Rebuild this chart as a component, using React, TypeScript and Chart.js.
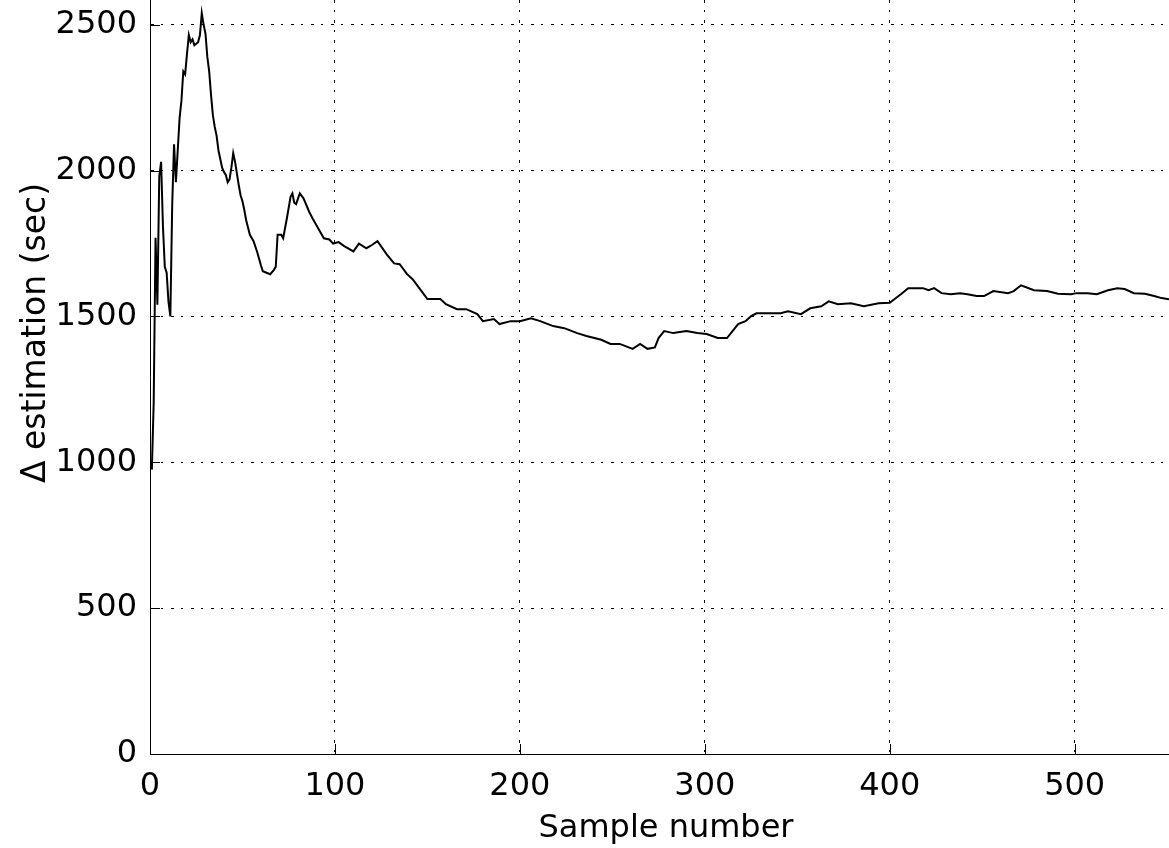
import React, { useEffect, useRef } from "react";
import { Chart, registerables } from "chart.js";

Chart.register(...registerables);

const sampleNumbers = [
  1, 2, 3, 4, 5, 6, 7, 8, 9, 10, 11, 12, 13, 14, 15, 16, 17, 18, 19, 20,
  21, 22, 23, 24, 25, 26, 27, 28, 29, 30, 31, 32, 33, 34, 35, 36, 37, 38, 39, 40,
  41, 42, 43, 44, 45, 46, 47, 48, 49, 50, 51, 52, 53, 54, 56, 58, 60, 61, 63, 65,
  67, 68, 69, 71, 72, 74, 76, 77, 78, 79, 81, 83, 86, 88, 91, 94, 97, 99, 102, 105,
  110, 113, 117, 120, 123, 128, 132, 135, 139, 142, 146, 150, 157, 160, 166, 171, 177, 180, 186, 189,
  195, 200, 206, 211, 218, 224, 231, 236, 244, 249, 254, 261, 265, 269, 273, 275, 278, 283, 290, 296,
  301, 307, 312, 315, 318, 322, 325, 328, 334, 341, 345, 352, 357, 363, 367, 372, 379, 386, 394, 400,
  406, 410, 418, 421, 424, 428, 433, 438, 442, 447, 451, 456, 464, 467, 471, 478, 485, 491, 498, 501,
  507, 512, 518, 523, 527, 532, 538, 543, 547, 551,
];

const deltaEstimates = [
  975, 1205, 1770, 1540, 1980, 2030, 1810, 1670, 1650, 1550, 1500, 1880, 2090, 1960, 2070, 2180, 2240, 2340, 2330, 2400,
  2465, 2440, 2450, 2430, 2435, 2440, 2465, 2540, 2500, 2470, 2390, 2340, 2260, 2190, 2150, 2120, 2070, 2040, 2010, 1995,
  1985, 1960, 1970, 2010, 2060, 2030, 1990, 1950, 1915, 1895, 1865, 1830, 1805, 1780, 1758, 1720, 1675, 1655, 1650, 1645,
  1660, 1670, 1780, 1780, 1768, 1836, 1910, 1922, 1890, 1885, 1922, 1905, 1860, 1835, 1802, 1768, 1764, 1750, 1755, 1741,
  1723, 1750, 1734, 1745, 1758, 1713, 1682, 1679, 1645, 1628, 1594, 1560, 1560, 1542, 1525, 1525, 1508, 1484, 1491, 1474,
  1484, 1484, 1494, 1484, 1467, 1460, 1443, 1433, 1420, 1406, 1406, 1389, 1406, 1389, 1394, 1426, 1450, 1443, 1450, 1443,
  1440, 1426, 1426, 1450, 1474, 1484, 1501, 1511, 1511, 1511, 1518, 1508, 1528, 1535, 1552, 1542, 1545, 1535, 1545, 1547,
  1576, 1597, 1597, 1590, 1597, 1580, 1576, 1580, 1576, 1570, 1570, 1587, 1580, 1587, 1607, 1590, 1587, 1578, 1576, 1580,
  1580, 1576, 1590, 1597, 1594, 1580, 1578, 1570, 1563, 1559,
];

const xTickValues = [0, 100, 200, 300, 400, 500];
const yTickValues = [0, 500, 1000, 1500, 2000, 2500];
const xTitle = "Sample number";
const yTitle = "Δ estimation (sec)";

const FONT = "'DejaVu Sans', 'Liberation Sans', sans-serif";

export default function App() {
  const ref = useRef<HTMLCanvasElement>(null);

  useEffect(() => {
    document.body.style.margin = "0";
    const canvas = ref.current;
    if (!canvas) return;

    const decorations = {
      id: "decorations",
      afterDraw(chart: any) {
        const { ctx, chartArea, scales } = chart;
        const xs = scales.x;
        const ys = scales.y;
        ctx.save();
        ctx.strokeStyle = "#000";
        ctx.lineWidth = 1;
        ctx.setLineDash([]);
        ctx.beginPath();
        for (const v of xTickValues) {
          const px = Math.round(xs.getPixelForValue(v)) + 0.5;
          ctx.moveTo(px, chartArea.bottom);
          ctx.lineTo(px, chartArea.bottom - 10);
        }
        for (const v of yTickValues) {
          const py = Math.round(ys.getPixelForValue(v)) + 0.5;
          ctx.moveTo(chartArea.left, py);
          ctx.lineTo(chartArea.left + 10, py);
        }
        ctx.stroke();

        ctx.fillStyle = "#000";
        ctx.font = `32px ${FONT}`;
        ctx.textAlign = "center";
        ctx.textBaseline = "alphabetic";
        ctx.fillText(xTitle, 666, 837);

        ctx.translate(45, 333);
        ctx.rotate(-Math.PI / 2);
        ctx.font = `33px ${FONT}`;
        ctx.fillText(yTitle, 0, 0);
        ctx.restore();
      },
    };

    const chart = new Chart(canvas, {
      type: "line",
      data: {
        datasets: [
          {
            data: sampleNumbers.map((x, i) => ({ x, y: deltaEstimates[i] })),
            borderColor: "#000",
            borderWidth: 2,
            pointRadius: 0,
            tension: 0,
            fill: false,
          },
        ],
      },
      options: {
        responsive: false,
        animation: false,
        devicePixelRatio: 1,
        layout: { padding: 0 },
        plugins: {
          legend: { display: false },
          tooltip: { enabled: false },
          title: { display: false },
        },
        scales: {
          x: {
            type: "linear",
            min: 0,
            max: 551,
            afterBuildTicks: (s: any) => {
              s.ticks = xTickValues.map((value) => ({ value }));
            },
            afterFit: (s: any) => {
              s.height = 94;
              s.paddingLeft = 0;
              s.paddingRight = 0;
            },
            grid: { color: "#000", lineWidth: 1, drawTicks: false },
            border: { display: true, color: "#000", width: 1, dash: [3, 7, 2, 8] },
            ticks: {
              color: "#000",
              font: { family: FONT, size: 32 },
              padding: 13,
              maxRotation: 0,
              autoSkip: false,
              callback: (v: any) => String(v),
            },
          },
          y: {
            type: "linear",
            min: 0,
            max: 2585,
            afterBuildTicks: (s: any) => {
              s.ticks = yTickValues.map((value) => ({ value }));
            },
            afterFit: (s: any) => {
              s.width = 150;
              s.paddingTop = 0;
              s.paddingBottom = 0;
            },
            grid: { color: "#000", lineWidth: 1, drawTicks: false },
            border: { display: true, color: "#000", width: 1, dash: [3, 7, 2, 8] },
            ticks: {
              color: "#000",
              font: { family: FONT, size: 32 },
              padding: 13,
              autoSkip: false,
              callback: (v: any) => String(v),
            },
          },
        },
      },
      plugins: [decorations],
    });

    return () => chart.destroy();
  }, []);

  return (
    <div style={{ width: 1169, height: 848, background: "#fff" }}>
      <canvas ref={ref} width={1169} height={848} style={{ display: "block" }} />
    </div>
  );
}
